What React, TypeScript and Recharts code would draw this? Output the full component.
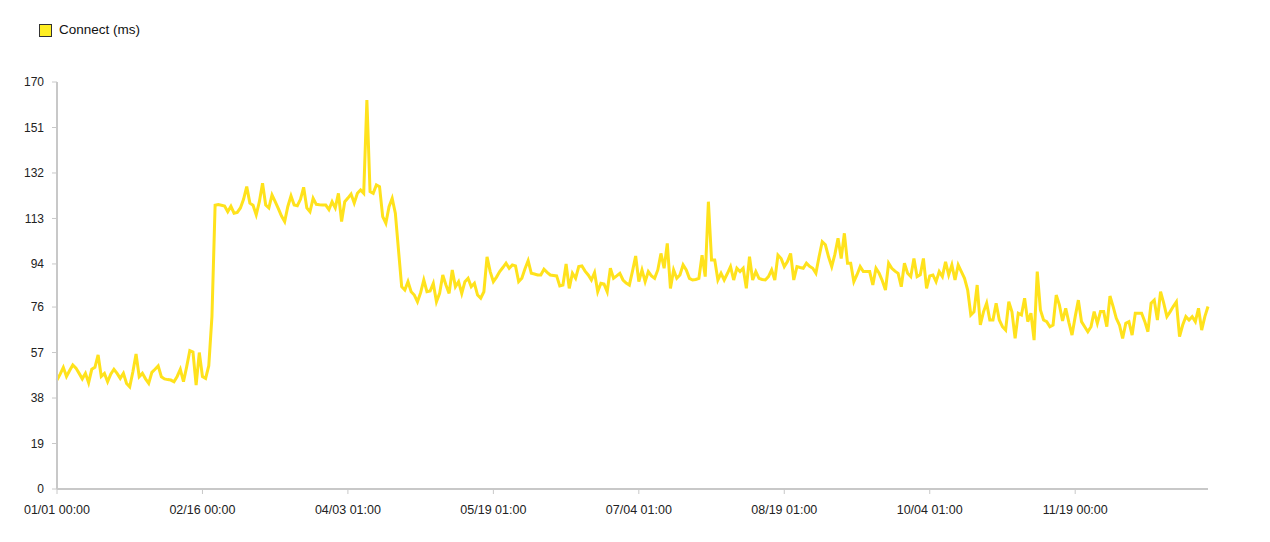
import React from "react";
import { LineChart, Line, XAxis, YAxis } from "recharts";

const seriesName = "Connect (ms)";

const connectMs: number[] = [
  45.5, 48, 50.8, 47, 49.5, 51.8, 50.5, 48.3, 46, 48.3,
  44.4, 50, 50.8, 56, 47, 48.3, 44.8, 48, 50, 48.3,
  46.2, 48.3, 44.1, 42.7, 49, 56.4, 46.9, 48.3, 46, 44.1,
  48.7, 50, 51.4, 46.9, 46, 45.7, 45.5, 44.8, 47, 50,
  44.8, 51, 57.8, 57.2, 43.4, 57, 47, 46.2, 51.5, 72,
  118.5, 118.8, 118.5, 118.2, 115.8, 118.1, 115.2, 115.5, 117.4, 121,
  126.3, 119.4, 118.5, 114.5, 120, 127.7, 118.6, 117.4, 122.8, 120,
  117.1, 114, 111.7, 118, 122.4, 118.6, 118.3, 121, 126, 117.4,
  115.8, 121.4, 118.9, 118.7, 118.6, 118.6, 116.7, 120, 117.4, 123.5,
  111.7, 120, 121.5, 123.2, 119.4, 123.5, 124.9, 123.5, 162.5, 124.2,
  123.5, 127, 126.3, 113.8, 111, 117.9, 121.4, 115.2, 99.8, 84.5,
  83.1, 86.6, 82.4, 81, 78.2, 82, 87.3, 82.4, 82.7, 85.9,
  78.2, 81.7, 89.4, 85.2, 81.7, 91.5, 84.5, 86.6, 81.7, 86.6,
  88, 84.5, 85.9, 81, 79.7, 82.4, 97, 90.8, 86.6, 88.5,
  90.8, 92.5, 94.3, 92.2, 93.6, 93.2, 86.6, 88, 92, 95.4,
  90.1, 89.8, 89.4, 89.4, 91.8, 90.5, 89.4, 89.2, 89, 84.8,
  85.2, 94, 83.8, 90.1, 88, 92.9, 93.2, 91, 89.4, 87.3,
  90.4, 82.4, 85.9, 85.6, 82.4, 92.2, 88, 89, 90.1, 87.3,
  86, 85.2, 91, 97.3, 86.6, 91.5, 86.6, 90.8, 89, 88,
  91.5, 98.4, 92.2, 102.6, 83.8, 91.5, 88, 89.4, 93.6, 91.5,
  88, 87.3, 87.5, 88, 97.7, 88.7, 120, 95.7, 95.7, 87.3,
  90.1, 87.3, 90, 92.9, 87.3, 92.2, 90.8, 92.2, 83.8, 97,
  87.3, 90.8, 88, 87.5, 87.3, 88.7, 91.5, 87.3, 97.7, 96.3,
  92.9, 95, 98.4, 87.3, 92.9, 92.5, 92.2, 94.3, 93, 92.2,
  90.1, 97, 103.3, 102, 97, 92.9, 98, 104.7, 96.3, 106.8,
  94.3, 94.3, 86.6, 89.5, 92.9, 90.8, 90.8, 90.8, 85.2, 92.2,
  90.1, 87, 83.1, 94.3, 92.2, 91, 90.1, 84.5, 94.3, 90.1,
  88.7, 96.3, 88.7, 89.5, 96.3, 83.8, 89, 89.4, 86.6, 90.8,
  88.7, 94.9, 89.4, 93.6, 87.3, 93.6, 90.8, 88, 83.1, 72.7,
  74, 85.2, 68.5, 74, 77.6, 70.6, 70.6, 77.6, 70.6, 67.8,
  66.4, 78.2, 74, 62.9, 73.4, 72.7, 79.7, 69.9, 73.4, 62.2,
  90.8, 74.8, 70.6, 69.9, 67.8, 68.5, 81, 76.9, 70.2, 75.5,
  69.6, 64.3, 72, 78.9, 69.9, 67.8, 65.7, 67.8, 74.1, 69.2,
  74.1, 74.1, 67.8, 80.6, 76.2, 71.3, 68.5, 62.9, 69.2, 69.9,
  64.3, 73.4, 73.4, 73.4, 70, 65.7, 77.6, 78.9, 70.6, 82.4,
  77.6, 72, 74, 76.2, 78.2, 63.6, 68.5, 72, 70.6, 72,
  69.9, 75.5, 66.4, 72, 76.2,
];

const xTickDays: number[] = [0, 46, 92, 138, 184, 230, 276, 322];
const xTickLabels: string[] = [
  "01/01 00:00",
  "02/16 00:00",
  "04/03 01:00",
  "05/19 01:00",
  "07/04 01:00",
  "08/19 01:00",
  "10/04 01:00",
  "11/19 00:00",
];
const yTicks: number[] = [0, 19, 38, 57, 76, 94, 113, 132, 151, 170];

const data = connectMs.map((v, i) => ({ day: i, connect: v }));

const LINE_COLOR = "#FFE21C";
const AXIS_COLOR = "#c8c8c8";
const FONT = "'Liberation Sans', Arial, Helvetica, sans-serif";

export default function App() {
  return (
    <div style={{ position: "relative", width: 1262, height: 530, background: "#fff" }}>
      <div
        style={{
          position: "absolute",
          top: 15,
          left: 31,
          display: "flex",
          alignItems: "center",
          fontFamily: FONT,
          fontSize: 13.5,
          color: "#111",
          lineHeight: "14px",
        }}
      >
        <span
          style={{
            display: "inline-block",
            width: 11,
            height: 11,
            background: "#FFEE22",
            border: "1px solid #333",
            marginRight: 7,
          }}
        />
        <span>{seriesName}</span>
      </div>
      <LineChart
        width={1262}
        height={530}
        data={data}
        margin={{ top: 74, right: 62, bottom: 19, left: 0 }}
        style={{ fontFamily: FONT }}
      >
        <XAxis
          dataKey="day"
          type="number"
          domain={[0, 364]}
          ticks={xTickDays}
          interval={0}
          tickFormatter={(d: number) => xTickLabels[xTickDays.indexOf(d)] ?? ""}
          axisLine={{ stroke: AXIS_COLOR, strokeWidth: 2 }}
          tickLine={{ stroke: AXIS_COLOR }}
          tickSize={5}
          tickMargin={11}
          tick={{ fill: "#222", fontSize: 12.5, fontFamily: FONT }}
          height={30}
        />
        <YAxis
          type="number"
          domain={[0, 170]}
          ticks={yTicks}
          interval={0}
          width={49}
          axisLine={{ stroke: AXIS_COLOR, strokeWidth: 2 }}
          tickLine={{ stroke: AXIS_COLOR }}
          tickSize={5}
          tickMargin={8}
          tick={{ fill: "#222", fontSize: 12, fontFamily: FONT }}
        />
        <Line
          type="linear"
          dataKey="connect"
          stroke={LINE_COLOR}
          strokeWidth={3}
          dot={false}
          activeDot={false}
          isAnimationActive={false}
        />
      </LineChart>
    </div>
  );
}
